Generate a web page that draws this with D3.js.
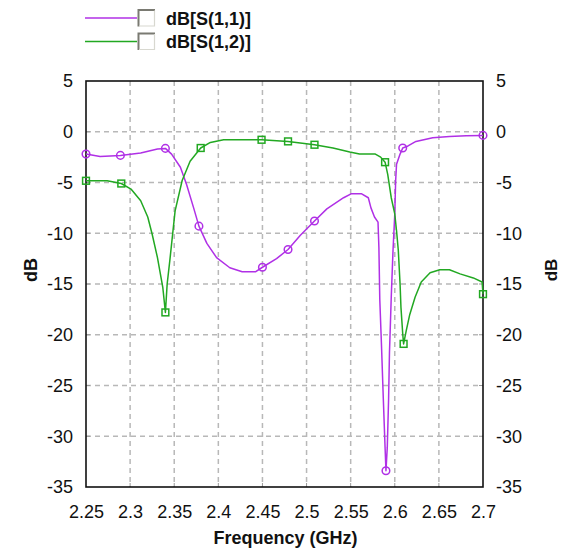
<!DOCTYPE html>
<html>
<head>
<meta charset="utf-8">
<script src="https://cdn.jsdelivr.net/npm/d3@7/dist/d3.min.js"></script>
<style>
  html, body { margin: 0; padding: 0; background: #fff; }
  svg { display: block; font-family: "Liberation Sans", Arial, sans-serif; }
</style>
</head>
<body>
<svg id="chart" width="561" height="554"></svg>
<script>
// Frequency sweep (GHz) and dB values for each S-parameter trace
const s11Freq = [2.25, 2.266, 2.289, 2.312, 2.331, 2.34, 2.347, 2.357, 2.364, 2.372, 2.378, 2.387, 2.398, 2.413, 2.427, 2.442, 2.45, 2.466, 2.479, 2.493, 2.509, 2.523, 2.542, 2.551, 2.562, 2.57, 2.573, 2.577, 2.581, 2.582, 2.583, 2.585, 2.587, 2.589, 2.59, 2.5915, 2.593, 2.594, 2.596, 2.598, 2.6, 2.601, 2.602, 2.606, 2.609, 2.615, 2.624, 2.643, 2.662, 2.681, 2.7];
const s11Val  = [-2.2, -2.43, -2.33, -2.1, -1.7, -1.64, -2.2, -3.5, -5.2, -7.5, -9.3, -11.0, -12.4, -13.4, -13.8, -13.8, -13.35, -12.5, -11.6, -10.2, -8.8, -7.6, -6.5, -6.1, -6.1, -6.5, -7.5, -8.4, -8.9, -11.4, -16.5, -21.2, -26.3, -31.1, -33.4, -31.1, -26.3, -21.7, -16.3, -11.7, -8.1, -4.8, -3.2, -2.2, -1.6, -1.4, -0.95, -0.6, -0.46, -0.4, -0.36];

const s12Freq = [2.25, 2.274, 2.29, 2.301, 2.312, 2.32, 2.325, 2.331, 2.337, 2.34, 2.342, 2.345, 2.351, 2.359, 2.368, 2.38, 2.391, 2.406, 2.449, 2.479, 2.509, 2.53, 2.549, 2.56, 2.578, 2.584, 2.589, 2.592, 2.596, 2.6, 2.602, 2.604, 2.606, 2.607, 2.609, 2.61, 2.613, 2.617, 2.623, 2.63, 2.64, 2.651, 2.662, 2.674, 2.689, 2.699, 2.7];
const s12Val  = [-4.83, -4.83, -5.1, -5.65, -6.8, -8.4, -10.1, -12.4, -15.3, -17.8, -15.0, -12.7, -7.8, -4.8, -2.9, -1.6, -1.05, -0.79, -0.79, -0.95, -1.28, -1.6, -2.0, -2.2, -2.2, -2.5, -3.0, -4.2, -6.5, -8.1, -9.75, -11.7, -15.0, -17.3, -19.9, -20.9, -19.6, -18.0, -16.3, -14.8, -13.9, -13.6, -13.6, -14.0, -14.4, -14.8, -16.0];

// Marker positions along each trace
const s11MarkFreq = [2.25, 2.289, 2.34, 2.378, 2.45, 2.479, 2.509, 2.59, 2.609, 2.7];
const s11MarkVal  = [-2.2, -2.33, -1.64, -9.3, -13.35, -11.6, -8.8, -33.4, -1.6, -0.36];
const s12MarkFreq = [2.25, 2.29, 2.34, 2.38, 2.449, 2.479, 2.509, 2.589, 2.61, 2.7];
const s12MarkVal  = [-4.83, -5.1, -17.8, -1.6, -0.79, -0.95, -1.28, -3.0, -20.9, -16.0];

const xTicks = [2.25, 2.3, 2.35, 2.4, 2.45, 2.5, 2.55, 2.6, 2.65, 2.7];
const yTicks = [5, 0, -5, -10, -15, -20, -25, -30, -35];
const seriesNames = ["dB[S(1,1)]", "dB[S(1,2)]"];
const seriesColors = ["#b030e6", "#22a822"];

const svg = d3.select("#chart");
const plot = { left: 86, right: 483, top: 81, bottom: 487 };

const x = d3.scaleLinear().domain([2.25, 2.7]).range([plot.left, plot.right]);
const y = d3.scaleLinear().domain([-35, 5]).range([plot.bottom, plot.top]);

// Dashed grid
const grid = svg.append("g").attr("stroke", "#b8b8b8").attr("stroke-width", 1.5).attr("stroke-dasharray", "5,4");
grid.selectAll("line.v").data(xTicks.slice(1, -1)).join("line")
  .attr("x1", d => x(d)).attr("x2", d => x(d))
  .attr("y1", plot.top).attr("y2", plot.bottom);
grid.selectAll("line.h").data(yTicks.slice(1, -1)).join("line")
  .attr("x1", plot.left).attr("x2", plot.right)
  .attr("y1", d => y(d)).attr("y2", d => y(d));

// Axes (labels only; frame drawn separately)
const fmt = d => String(d);
const axB = svg.append("g").attr("transform", `translate(0,${plot.bottom})`)
  .call(d3.axisBottom(x).tickValues(xTicks).tickFormat(fmt).tickSize(0).tickPadding(18));
const axL = svg.append("g").attr("transform", `translate(${plot.left},0)`)
  .call(d3.axisLeft(y).tickValues(yTicks).tickFormat(fmt).tickSize(0).tickPadding(13));
const axR = svg.append("g").attr("transform", `translate(${plot.right},0)`)
  .call(d3.axisRight(y).tickValues(yTicks).tickFormat(fmt).tickSize(0).tickPadding(13));
[axB, axL, axR].forEach(a => {
  a.select(".domain").remove();
  a.selectAll("text").attr("font-size", 18).attr("fill", "#111")
    .attr("font-family", "'Liberation Sans', Arial, sans-serif");
});

// Inner tick marks on the frame
const tk = svg.append("g").attr("stroke", "#999").attr("stroke-width", 1);
tk.selectAll("line.xb").data(xTicks.slice(1, -1)).join("line")
  .attr("x1", d => x(d)).attr("x2", d => x(d)).attr("y1", plot.bottom).attr("y2", plot.bottom - 4);
tk.selectAll("line.yl").data(yTicks.slice(1, -1)).join("line")
  .attr("x1", plot.left).attr("x2", plot.left + 4).attr("y1", d => y(d)).attr("y2", d => y(d));
tk.selectAll("line.yr").data(yTicks.slice(1, -1)).join("line")
  .attr("x1", plot.right).attr("x2", plot.right - 4).attr("y1", d => y(d)).attr("y2", d => y(d));

// Plot frame
svg.append("rect").attr("x", plot.left).attr("y", plot.top)
  .attr("width", plot.right - plot.left).attr("height", plot.bottom - plot.top)
  .attr("fill", "none").attr("stroke", "#111").attr("stroke-width", 1.6);

// Axis titles
svg.append("text").attr("x", (plot.left + plot.right) / 2 + 1).attr("y", 544)
  .attr("text-anchor", "middle").attr("font-size", 18).attr("font-weight", "bold")
  .attr("fill", "#111").text("Frequency (GHz)");
svg.append("text").attr("transform", "translate(37,270) rotate(-90)")
  .attr("text-anchor", "middle").attr("font-size", 18).attr("font-weight", "bold")
  .attr("fill", "#111").text("dB");
svg.append("text").attr("transform", "translate(557,270) rotate(-90)")
  .attr("text-anchor", "middle").attr("font-size", 17).attr("font-weight", "bold")
  .attr("fill", "#111").text("dB");

// Traces
const line = d3.line().x(d => x(d[0])).y(d => y(d[1])).curve(d3.curveLinear);
const traces = [
  { f: s11Freq, v: s11Val, mf: s11MarkFreq, mv: s11MarkVal, shape: "circle" },
  { f: s12Freq, v: s12Val, mf: s12MarkFreq, mv: s12MarkVal, shape: "square" }
];
traces.forEach((t, i) => {
  const pts = t.f.map((f, j) => [f, t.v[j]]);
  svg.append("path").datum(pts).attr("d", line)
    .attr("fill", "none").attr("stroke", seriesColors[i]).attr("stroke-width", 1.5)
    .attr("stroke-linejoin", "round");
  const marks = t.mf.map((f, j) => [f, t.mv[j]]);
  const g = svg.append("g").attr("fill", "none").attr("stroke", seriesColors[i]).attr("stroke-width", 1.5);
  if (t.shape === "circle") {
    g.selectAll("circle").data(marks).join("circle")
      .attr("cx", d => x(d[0])).attr("cy", d => y(d[1])).attr("r", 3.8);
  } else {
    g.selectAll("rect").data(marks).join("rect")
      .attr("x", d => x(d[0]) - 3.4).attr("y", d => y(d[1]) - 3.4)
      .attr("width", 6.8).attr("height", 6.8);
  }
});

// Legend
const legend = svg.append("g");
seriesNames.forEach((name, i) => {
  const cy = 18 + i * 23.5;
  legend.append("line").attr("x1", 85).attr("x2", 137).attr("y1", cy).attr("y2", cy)
    .attr("stroke", seriesColors[i]).attr("stroke-width", 1.5);
  const bx = 138, by = cy - 8.5, bs = 17;
  legend.append("rect").attr("x", bx).attr("y", by).attr("width", bs).attr("height", bs).attr("fill", "#fff");
  legend.append("path").attr("d", `M${bx + 0.5},${by + bs} V${by + 0.5} H${bx + bs}`)
    .attr("fill", "none").attr("stroke", "#7a7a72").attr("stroke-width", 2);
  legend.append("path").attr("d", `M${bx + 1},${by + bs - 0.5} H${bx + bs - 0.5} V${by + 1}`)
    .attr("fill", "none").attr("stroke", "#d8d8d0").attr("stroke-width", 1.2);
  legend.append("text").attr("x", 166).attr("y", cy + 6.5)
    .attr("font-size", 18).attr("font-weight", "bold").attr("fill", "#111").text(name);
});
</script>
</body>
</html>
